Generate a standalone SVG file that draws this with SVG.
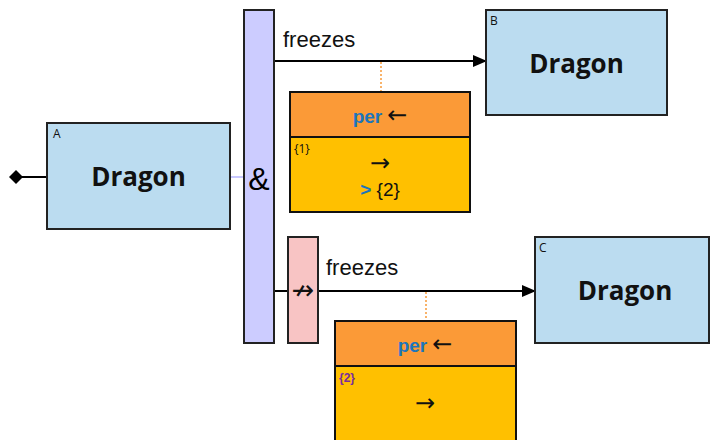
<svg xmlns="http://www.w3.org/2000/svg" width="710" height="440" viewBox="0 0 710 440">
<defs>
<style>
.node{fill:#BBDCF0;stroke:#222;stroke-width:2}
.big{font-family:"Open Sans","Noto Sans",sans-serif;font-weight:bold;font-size:26px;fill:#111;text-anchor:middle}
.tag{font-family:"Open Sans","Noto Sans",sans-serif;font-size:12px;fill:#111}
.lbl{font-family:"Liberation Sans",Arial,sans-serif;font-size:22px;fill:#111}
.conn{stroke:#000;stroke-width:2;fill:none}
.dot{stroke:#F79A3A;stroke-width:1.5;stroke-dasharray:2,2;fill:none}
.hdr{fill:#FB9A37;stroke:#111;stroke-width:2}
.body{fill:#FFC000;stroke:#111;stroke-width:2}
.per{font-family:"Liberation Sans",Arial,sans-serif;font-size:19px;font-weight:bold;fill:#1C75BC}
.sym{font-family:"DejaVu Sans",sans-serif;font-size:24px;fill:#111}
</style>
<marker id="arr" markerWidth="14" markerHeight="12" refX="13" refY="6" orient="auto" markerUnits="userSpaceOnUse">
<path d="M0,0 L14,6 L0,12 Z" fill="#000"/>
</marker>
</defs>
<g id="connectors">
<line x1="22" y1="177" x2="47" y2="177" class="conn"/>
<path d="M9,177 L16,170 L23,177 L16,184 Z" fill="#000"/>
<line x1="230" y1="177" x2="244" y2="177" stroke="#C8C8FF" stroke-width="2"/>
<line x1="274" y1="61" x2="486" y2="61" class="conn" marker-end="url(#arr)"/>
<line x1="274" y1="291" x2="288" y2="291" class="conn"/>
<line x1="318" y1="291" x2="535" y2="291" class="conn" marker-end="url(#arr)"/>
<line x1="381" y1="62" x2="381" y2="92" class="dot"/>
<line x1="426" y1="292" x2="426" y2="321" class="dot"/>
</g>
<g id="nodeA">
<rect x="47" y="123" width="183" height="106" class="node"/>
<text x="53" y="138" class="tag">A</text>
<text x="138.5" y="186" class="big">Dragon</text>
</g>
<g id="and">
<rect x="244" y="10" width="30" height="333" fill="#CCCCFF" stroke="#222" stroke-width="2"/>
<text x="259" y="190" font-family="Liberation Sans,Arial,sans-serif" font-size="32" text-anchor="middle" fill="#000">&amp;</text>
</g>
<g id="nodeB">
<rect x="486" y="10" width="181" height="105" class="node"/>
<text x="490" y="25" class="tag">B</text>
<text x="576.5" y="73" class="big">Dragon</text>
</g>
<g id="label1">
<text x="283" y="47" class="lbl">freezes</text>
</g>
<g id="attr1">
<rect x="290" y="92" width="180" height="45" class="hdr"/>
<rect x="290" y="137" width="180" height="75" class="body"/>
<text x="380" y="123" text-anchor="middle"><tspan class="per">per</tspan><tspan class="sym" dx="5">←</tspan></text>
<text x="294" y="153" class="tag" font-family="Liberation Sans,Arial,sans-serif">{1}</text>
<text x="380" y="171" text-anchor="middle" class="sym">→</text>
<text x="380" y="196" text-anchor="middle" font-family="Liberation Sans,Arial,sans-serif" font-size="19"><tspan font-weight="bold" fill="#1C75BC">&gt;</tspan><tspan fill="#111"> {2}</tspan></text>
</g>
<g id="notbox">
<rect x="288" y="237" width="30" height="106" fill="#F8C4C4" stroke="#222" stroke-width="2"/>
<text x="303" y="299" text-anchor="middle" font-family="DejaVu Sans,sans-serif" font-size="27" fill="#111">↛</text>
</g>
<g id="nodeC">
<rect x="535" y="237" width="174" height="106" class="node"/>
<text x="539" y="252" class="tag">C</text>
<text x="625" y="300" class="big">Dragon</text>
</g>
<g id="label2">
<text x="326" y="275" class="lbl">freezes</text>
</g>
<g id="attr2">
<rect x="335" y="321" width="181" height="45" class="hdr"/>
<rect x="335" y="366" width="181" height="80" class="body"/>
<text x="425" y="352" text-anchor="middle"><tspan class="per">per</tspan><tspan class="sym" dx="5">←</tspan></text>
<text x="339" y="382" font-family="Liberation Sans,Arial,sans-serif" font-size="12" font-weight="bold" fill="#7A2E9E">{2}</text>
<text x="425" y="411" text-anchor="middle" class="sym">→</text>
</g>
</svg>
